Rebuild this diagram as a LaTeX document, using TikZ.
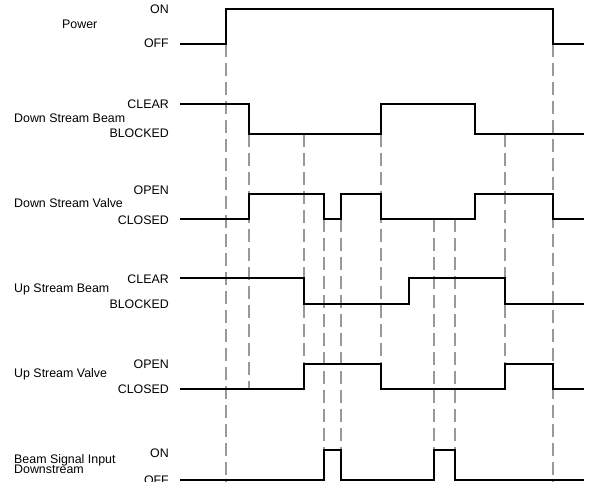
\documentclass[tikz,border=0pt]{standalone}
\usepackage{fontspec}
\setmainfont{Liberation Sans}
\usepackage{tikz}
\tikzstyle{signal}=[black, line width=1.4pt, line join=miter]
\tikzstyle{guide}=[black!40, line width=1.2pt, dash pattern=on 13pt off 6pt]
\tikzstyle{level}=[anchor=base east, inner sep=0pt, font=\fontsize{12.4}{12}\selectfont]
\tikzstyle{signame}=[anchor=base west, inner sep=0pt, font=\fontsize{12.4}{12}\selectfont]

\begin{document}
\begin{tikzpicture}[x=1pt, y=-1pt]
                \useasboundingbox (0,0) rectangle (590,482);
                \node[signame] (pwr)  at ( 62,  28) {Power};
                \node[level]   (pwr1) at (169,  13) {ON};
                \node[level]   (pwr0) at (169,  47) {OFF};
                \node[signame] (dsb)  at ( 14, 122) {Down Stream Beam};
                \node[level]   (dsb1) at (169, 108) {CLEAR};
                \node[level]   (dsb0) at (169, 137) {BLOCKED};
                \node[signame] (dsv)  at ( 14, 207) {Down Stream Valve};
                \node[level]   (dsv1) at (169, 194) {OPEN};
                \node[level]   (dsv0) at (169, 224) {CLOSED};
                \node[signame] (usb)  at ( 14, 292) {Up Stream Beam};
                \node[level]   (usb1) at (169, 283) {CLEAR};
                \node[level]   (usb0) at (169, 308) {BLOCKED};
                \node[signame] (usv)  at ( 14, 377) {Up Stream Valve};
                \node[level]   (usv1) at (169, 368) {OPEN};
                \node[level]   (usv0) at (169, 393) {CLOSED};
                \node[signame] (bsi)  at ( 14, 463) {Beam Signal Input};
                \node[signame] (bsi2) at ( 14, 473) {Downstream};
                \node[level]   (bsi1) at (169, 457) {ON};
                \node[level]   (bsi0) at (169, 484) {OFF};
                \draw[guide] (226, 44) -- (226, 482);
                \draw[guide] (249,134) -- (249, 389);
                \draw[guide] (304,134) -- (304, 389);
                \draw[guide] (324,219) -- (324, 450);
                \draw[guide] (341,219) -- (341, 450);
                \draw[guide] (381,134) -- (381, 389);
                \draw[guide] (434,219) -- (434, 450);
                \draw[guide] (455,219) -- (455, 450);
                \draw[guide] (505,134) -- (505, 389);
                \draw[guide] (553, 44) -- (553, 482);
                \draw[signal] (180, 44) -| (226,  9) -| (553, 44) -- (584, 44);
                \draw[signal] (180,104) -| (249,134) -| (381,104) -| (475,134) -- (584,134);
                \draw[signal] (180,219) -| (249,194) -| (324,219) -| (341,194) -| (381,219)
                              -| (475,194) -| (553,219) -- (584,219);
                \draw[signal] (180,278) -| (304,304) -| (409,278) -| (505,304) -- (584,304);
                \draw[signal] (180,389) -| (304,364) -| (381,389) -| (505,364) -| (553,389) -- (584,389);
                \draw[signal] (180,480) -| (324,450) -| (341,480) -| (434,450) -| (455,480) -- (584,480);
            \end{tikzpicture}
\end{document}
